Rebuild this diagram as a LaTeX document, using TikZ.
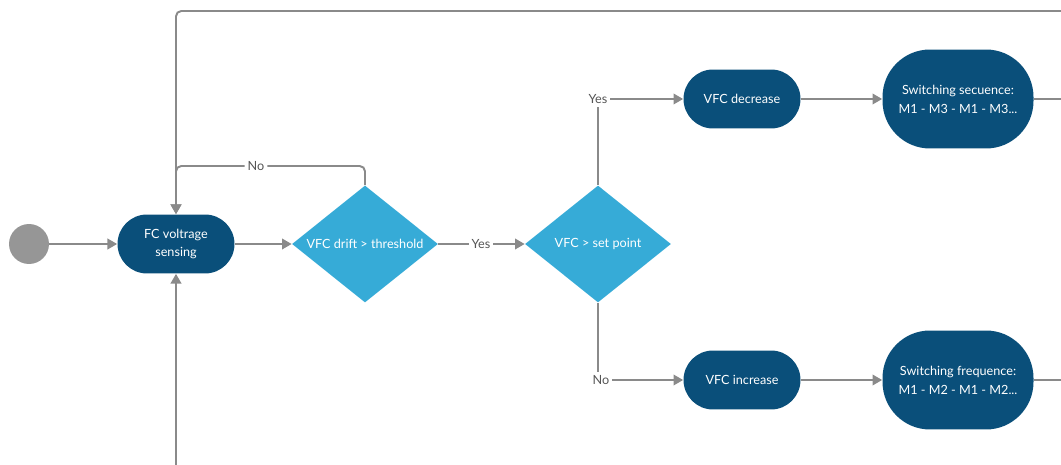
\documentclass[tikz,border=0pt]{standalone}
\usepackage{fontspec}
\setmainfont{Lato}
\usepackage{tikz}
\usetikzlibrary{shapes.geometric,arrows.meta}
\definecolor{actblue}{HTML}{0A4F7A}
\definecolor{decblue}{HTML}{36ABD7}
\definecolor{linegray}{HTML}{8A8A8A}
\definecolor{txtgray}{HTML}{555555}

\begin{document}
\begin{tikzpicture}[x=0.02cm,y=-0.02cm]
              \tikzstyle{every node} = [font=\fontsize{7.2}{10.8}\selectfont];
              \tikzstyle{act} = [rectangle, fill=actblue, text=white, align=center,
                                 minimum width=2.34cm, minimum height=1.18cm, rounded corners=0.59cm];
              \tikzstyle{seq} = [rectangle, fill=actblue, text=white, align=center,
                                 minimum width=3.02cm, minimum height=1.98cm, rounded corners=0.95cm];
              \tikzstyle{dec} = [diamond, fill=decblue, text=white, aspect=1.25, inner sep=0pt,
                                 minimum width=2.92cm, minimum height=2.34cm];
              \tikzstyle{startdot} = [circle, fill=linegray!90, minimum size=0.8cm, inner sep=0pt];
              \tikzstyle{guard} = [fill=white, text=txtgray, inner sep=1.5pt];
              \tikzstyle{flow} = [draw=linegray, line width=1.1pt, rounded corners=3pt];
              \tikzstyle{go} = [flow, -{Triangle[length=5.5pt,width=6pt]}];
              \useasboundingbox (0,0) rectangle (1061,465);

              % nodes
              \node[startdot] (start) at (29,244) {};
              \node[act] (sense) at (176,244) {FC voltrage\\sensing};
              \node[dec] (drift) at (365,244) {VFC drift > threshold};
              \node[dec] (setp) at (598,244) {VFC > set point};
              \node[act] (vdec) at (742,99) {VFC decrease};
              \node[act] (vinc) at (742,380) {VFC increase};
              \node[seq] (seqA) at (958,99) {Switching secuence:\\M1 - M3 - M1 - M3...};
              \node[seq] (seqB) at (958,380) {Switching frequence:\\M1 - M2 - M1 - M2...};

              % guards
              \node[guard] (noA) at (256,166) {No};
              \node[guard] (yesA) at (481,244) {Yes};
              \node[guard] (yesB) at (598,99) {Yes};
              \node[guard] (noB) at (601,380) {No};

              \coordinate (topR) at (1061,11);
              \coordinate (outA) at (1061,99);
              \coordinate (outB) at (1061,380);
              \coordinate (botL) at (176,465);

              % connectors
              \draw[go] (start) -- (sense);
              \draw[go] (sense) -- (drift);
              \draw[flow] (drift) -- (yesA);
              \draw[go] (yesA) -- (setp);
              \draw[flow] (drift.north) -- (drift.north |- noA) -- (noA);
              \draw[go] (noA) -- (sense.north |- noA) -- (sense.north);
              \draw[go] (topR) -- (sense.north |- topR) -- (sense.north);
              \draw[go] (botL) -- (sense.south);
              \draw[flow] (setp.north) -- (setp.north |- yesB.south);
              \draw[go] (yesB) -- (vdec);
              \draw[flow] (setp.south) -- (setp.south |- noB.north);
              \draw[go] (noB) -- (vinc);
              \draw[go] (vdec) -- (seqA);
              \draw[go] (vinc) -- (seqB);
              \draw[flow] (seqA) -- (outA);
              \draw[flow] (seqB) -- (outB);
            \end{tikzpicture}
\end{document}
